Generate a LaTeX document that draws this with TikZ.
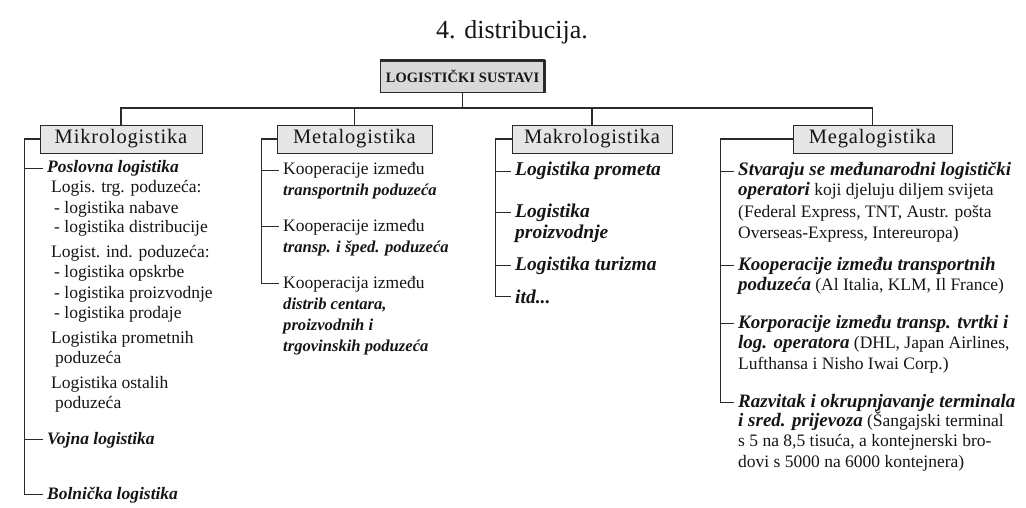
\documentclass[tikz,border=0pt]{standalone}
\usepackage{fontspec}
\setmainfont{Liberation Serif}
\usetikzlibrary{calc}
\definecolor{boxgray}{HTML}{E6E6E6}
\definecolor{rootgray}{HTML}{D9D9D9}
\definecolor{ink}{HTML}{151515}
\definecolor{wirec}{HTML}{2A2A2A}
\newcommand\bodyfont{\fontsize{17.5}{20}\selectfont}
\newcommand\bisize{17.5}
\newcommand\bifont{\fontsize{\bisize}{20}\selectfont\bfseries\itshape}
\newcommand\catfont{\addfontfeature{LetterSpace=4}\fontsize{20.5}{22}\selectfont}
\newcommand\rootfont{\addfontfeature{LetterSpace=1}\fontsize{14.4}{16}\selectfont\bfseries}
\newcommand\bi[1]{{\bifont #1}}
\begin{document}
\begin{tikzpicture}[x=1pt,y=-1pt,
  txt/.style={anchor=base west, inner sep=0pt, font=\bodyfont, text=ink},
  bit/.style={txt, font=\bifont},
  catbox/.style={draw=wirec, fill=boxgray, line width=0.9pt, minimum height=28pt, inner sep=0pt, font=\catfont, text=ink},
  wire/.style={draw=wirec, line width=1.2pt},
]
\useasboundingbox (0,0) rectangle (1026,508);

% title
\node[anchor=base, inner sep=0pt, font=\fontsize{26}{30}\selectfont, text=ink] (title) at (512,39) {4. distribucija.};

% root box
\node[draw=wirec, fill=rootgray, line width=0.9pt, minimum width=165pt, minimum height=32pt, inner sep=0pt, font=\rootfont, text=ink] (root) at (462.5,76) {LOGISTIČKI SUSTAVI};
\draw[wirec, line width=3pt] ([yshift=-1pt]root.north west) -- ([yshift=-1pt]root.north east);
\draw[wirec, line width=3pt] ([xshift=-1pt]root.north east) -- ([xshift=-1pt]root.south east);

% category boxes
\node[catbox, minimum width=162pt] (mikro) at (121,139) {Mikrologistika};
\node[catbox, minimum width=155pt] (meta)  at (354.5,139) {Metalogistika};
\node[catbox, minimum width=160pt] (makro) at (592,139) {Makrologistika};
\node[catbox, minimum width=159pt] (mega)  at (872.5,139) {Megalogistika};

\coordinate (bus) at (462.5,108);
\draw[wire] (root.south) -- (bus);
\draw[wire] (bus) -| (mikro.north);
\draw[wire] (bus) -| (meta.north);
\draw[wire] (bus) -| (makro.north);
\draw[wire] (bus) -| (mega.north);

% Mikrologistika column
\node[bit] (k1)  at (47,173) {Poslovna logistika};
\node[txt] (k1a) at (51,193) {Logis. trg. poduzeća:};
\node[txt] (k1b) at (54,213) {- logistika nabave};
\node[txt] (k1c) at (54,233) {- logistika distribucije};
\node[txt] (k1d) at (51,257) {Logist. ind. poduzeća:};
\node[txt] (k1e) at (54,277) {- logistika opskrbe};
\node[txt] (k1f) at (54,298) {- logistika proizvodnje};
\node[txt] (k1g) at (54,318) {- logistika prodaje};
\node[txt] (k1h) at (51,343) {Logistika prometnih};
\node[txt] (k1i) at (55,363) {poduzeća};
\node[txt] (k1j) at (51,388) {Logistika ostalih};
\node[txt] (k1k) at (55,408) {poduzeća};
\node[bit] (k2)  at (47,444) {Vojna logistika};
\node[bit] (k3)  at (47,499) {Bolnička logistika};
\foreach \n in {k1,k2,k3}
  \draw[wire] (mikro.west) -- ++(-15,0) |- ([xshift=-4pt]\n.west);

% Metalogistika column
\begin{scope}[every node/.append style={/utils/exec=\renewcommand\bisize{16.6}}]
\node[txt] (t1)  at (283,175) {Kooperacije između};
\node[bit] (t1a) at (283,196) {transportnih poduzeća};
\node[txt] (t2)  at (283,231) {Kooperacije između};
\node[bit] (t2a) at (283,252) {transp. i šped. poduzeća};
\node[txt] (t3)  at (283,288) {Kooperacija između};
\node[bit] (t3a) at (283,309) {distrib centara,};
\node[bit] (t3b) at (283,330) {proizvodnih i};
\node[bit] (t3c) at (283,351) {trgovinskih poduzeća};
\end{scope}
\foreach \n in {t1,t2,t3}
  \draw[wire] (meta.west) -- ++(-15,0) |- ([xshift=-4pt]\n.west);

% Makrologistika column
\begin{scope}[every node/.append style={/utils/exec=\renewcommand\bisize{19.5}}]
\node[bit] (a1)  at (515,176) {Logistika prometa};
\node[bit] (a2)  at (515,217) {Logistika};
\node[bit] (a2a) at (515,238) {proizvodnje};
\node[bit] (a3)  at (515,270) {Logistika turizma};
\node[bit] (a4)  at (515,303) {itd...};
\end{scope}
\foreach \n in {a1,a2,a3,a4}
  \draw[wire] (makro.west) -- ++(-16,0) |- ([xshift=-4pt]\n.west);

% Megalogistika column
\begin{scope}[every node/.append style={/utils/exec=\renewcommand\bisize{19}}]
\node[bit] (g1)  at (738,176) {Stvaraju se međunarodni logistički};
\node[txt] (g1a) at (738,196) {\bi{operatori} koji djeluju diljem svijeta};
\node[txt] (g1b) at (738,218) {(Federal Express, TNT, Austr. pošta};
\node[txt] (g1c) at (738,238) {Overseas-Express, Intereuropa)};
\node[bit] (g2)  at (738,270) {Kooperacije između transportnih};
\node[txt] (g2a) at (738,290) {\bi{poduzeća} (Al Italia, KLM, Il France)};
\node[bit] (g3)  at (738,328) {Korporacije između transp. tvrtki i};
\node[txt] (g3a) at (738,348) {\bi{log. operatora} (DHL, Japan Airlines,};
\node[txt] (g3b) at (738,369) {Lufthansa i Nisho Iwai Corp.)};
\node[bit] (g4)  at (738,407) {Razvitak i okrupnjavanje terminala};
\node[txt] (g4a) at (738,426) {\bi{i sred. prijevoza} (Šangajski terminal};
\node[txt] (g4b) at (738,446) {s 5 na 8,5 tisuća, a kontejnerski bro-};
\node[txt] (g4c) at (738,467) {dovi s 5000 na 6000 kontejnera)};
\end{scope}
\foreach \n in {g1,g2,g3,g4}
  \draw[wire] (mega.west) -- ++(-72,0) |- ([xshift=-4pt]\n.west);
\end{tikzpicture}
\end{document}
